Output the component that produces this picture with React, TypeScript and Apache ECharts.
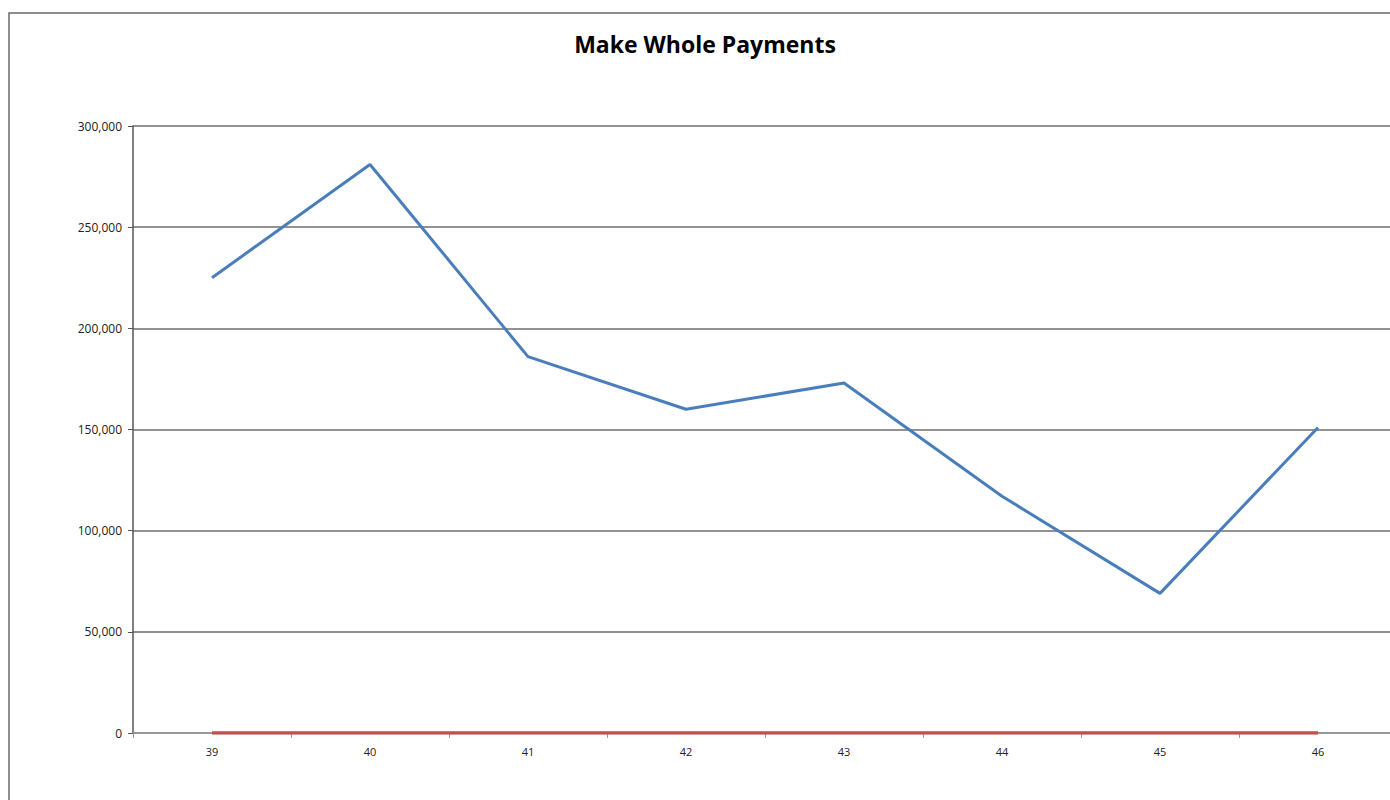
import React, { useEffect, useRef } from "react";
import * as echarts from "echarts";

const title = "Make Whole Payments";
const categories = ["39", "40", "41", "42", "43", "44", "45", "46"];
const makeWhole = [225000, 281000, 186000, 160000, 173000, 117000, 69000, 151000];
const zeroSeries = [0, 0, 0, 0, 0, 0, 0, 0];
const yMin = 0;
const yMax = 300000;
const yInterval = 50000;

const FONT = "'Open Sans', 'DejaVu Sans', sans-serif";

export default function App() {
  const ref = useRef<HTMLDivElement>(null);

  useEffect(() => {
    if (!ref.current) return;
    const chart = echarts.init(ref.current, null, { renderer: "svg" });
    chart.setOption({
      animation: false,
      backgroundColor: "#ffffff",
      title: {
        text: title,
        left: 692,
        top: 19,
        textAlign: "center",
        textStyle: { fontFamily: FONT, fontWeight: "bold", fontSize: 23, color: "#000" },
      },
      graphic: [
        {
          type: "rect",
          shape: { x: 1, y: 5, width: 1450, height: 900 },
          style: { fill: "none", stroke: "#6a6a6a", lineWidth: 1.5 },
          silent: true,
          z: 100,
        },
      ],
      grid: { left: 125, top: 118, width: 1264, height: 607, containLabel: false },
      xAxis: {
        type: "category",
        data: categories,
        boundaryGap: true,
        axisLine: { lineStyle: { color: "#999999", width: 1.5 } },
        axisTick: { show: true, length: 5, alignWithLabel: false, lineStyle: { color: "#999999" } },
        axisLabel: { fontFamily: FONT, fontSize: 11, color: "#222", margin: 13 },
        splitLine: { show: false },
      },
      yAxis: {
        type: "value",
        min: yMin,
        max: yMax,
        interval: yInterval,
        axisLine: { show: true, lineStyle: { color: "#555555", width: 1.5 } },
        axisTick: { show: true, length: 5, lineStyle: { color: "#555555" } },
        axisLabel: {
          fontFamily: FONT,
          fontSize: 12,
          color: "#222",
          margin: 11,
          formatter: (v: number) => v.toLocaleString("en-US"),
        },
        splitLine: { show: true, lineStyle: { color: "#6e6e6e", width: 1.5 } },
      },
      series: [
        {
          name: "Make Whole Payments",
          type: "line",
          data: makeWhole,
          showSymbol: false,
          symbol: "none",
          lineStyle: { color: "#4a7ebb", width: 3 },
          z: 3,
        },
        {
          name: "Zero",
          type: "line",
          data: zeroSeries,
          showSymbol: false,
          symbol: "none",
          lineStyle: { color: "#c0504d", width: 3.5 },
          z: 4,
        },
      ],
    });
    return () => chart.dispose();
  }, []);

  return (
    <div
      style={{
        position: "fixed",
        left: 0,
        top: 0,
        width: "100vw",
        height: "100vh",
        overflow: "hidden",
        background: "#fff",
      }}
    >
      <div ref={ref} style={{ position: "absolute", left: 8, top: 8, width: 1420, height: 830 }} />
    </div>
  );
}
